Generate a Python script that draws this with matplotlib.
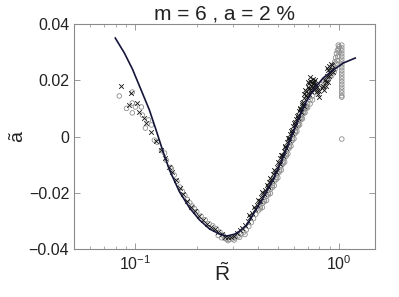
import matplotlib
matplotlib.use("Agg")
import matplotlib.pyplot as plt
from matplotlib.ticker import FixedLocator, FixedFormatter, LogLocator, NullFormatter

plt.rcParams['font.family'] = ['Liberation Sans', 'DejaVu Sans']
plt.rcParams['mathtext.fontset'] = 'custom'
plt.rcParams['mathtext.rm'] = 'Liberation Sans'
plt.rcParams['mathtext.it'] = 'Liberation Sans'
plt.rcParams['mathtext.bf'] = 'Liberation Sans'

# model curve
curve_R = [0.0797, 0.0883, 0.0967, 0.1058, 0.1172, 0.1269, 0.1359, 0.147, 0.1647, 0.1845, 0.2067,
           0.2315, 0.2593, 0.2808, 0.3075, 0.3253, 0.3523, 0.3771, 0.4224, 0.4731, 0.524, 0.5736,
           0.6281, 0.6877, 0.7532, 0.8342, 0.9342, 1.046, 1.199]
curve_a = [0.035, 0.0297, 0.0240, 0.0172, 0.0094, 0.0019, -0.0048, -0.0119, -0.0197, -0.0254, -0.0297,
           -0.0329, -0.0347, -0.0354, -0.0347, -0.0336, -0.0315, -0.0279, -0.0219, -0.0155, -0.0084,
           -0.0012, 0.0059, 0.0123, 0.0169, 0.0208, 0.0236, 0.0261, 0.0279]

# cross-marker data
cross_R = [0.0853, 0.0955, 0.0935, 0.1023, 0.1046, 0.1107, 0.1133, 0.1199, 0.1269, 0.1343, 0.139, 0.147,
           0.152, 0.158, 0.165, 0.172, 0.18, 0.188, 0.196, 0.205, 0.215, 0.225, 0.235, 0.245, 0.255,
           0.265, 0.275, 0.285, 0.295, 0.305, 0.315, 0.325, 0.335, 0.345, 0.355, 0.365, 0.375, 0.385,
           0.395, 0.405, 0.415, 0.425, 0.435, 0.445, 0.455, 0.465, 0.475, 0.485, 0.495, 0.505, 0.515,
           0.525, 0.535, 0.545, 0.555, 0.565, 0.575, 0.585, 0.595, 0.605, 0.615, 0.625, 0.635, 0.645,
           0.655, 0.665, 0.675,
           0.685, 0.69, 0.695, 0.70, 0.705, 0.71, 0.715, 0.72, 0.725, 0.73, 0.735, 0.74, 0.745, 0.75,
           0.755, 0.76, 0.77, 0.78, 0.79, 0.80, 0.82, 0.84, 0.86, 0.87, 0.88, 0.89, 0.90, 0.91, 0.92,
           0.93, 0.88, 0.85,
           0.36, 0.38, 0.40, 0.42, 0.44, 0.46, 0.48, 0.50, 0.52, 0.54, 0.56, 0.58, 0.60, 0.62, 0.64, 0.66,
           0.41, 0.43, 0.45, 0.47, 0.49, 0.51, 0.53, 0.55, 0.57, 0.59, 0.61, 0.63, 0.65, 0.67,
           0.70, 0.72, 0.74, 0.76, 0.73, 0.71, 0.78, 0.80, 0.83, 0.86, 0.89, 0.91, 0.87, 0.92, 0.68, 0.675]
cross_a = [0.018, 0.0155, 0.0112, 0.0119, 0.0087, 0.0066, 0.0048, 0.0016, -0.0016, -0.0048, -0.0076, -0.0108,
           -0.0127, -0.0153, -0.0184, -0.0205, -0.0229, -0.0249, -0.0266, -0.0281, -0.0296, -0.0310, -0.0322,
           -0.0330, -0.0338, -0.0348, -0.0356, -0.0358, -0.0357, -0.0352, -0.0344, -0.0334, -0.0326, -0.0315,
           -0.0302, -0.0287, -0.0271, -0.0256, -0.0244, -0.0229, -0.0215, -0.0202, -0.0189, -0.0176, -0.0162,
           -0.0150, -0.0135, -0.0121, -0.0107, -0.0093, -0.0078, -0.0064, -0.0050, -0.0035, -0.0020, -0.0006,
           0.0008, 0.0023, 0.0037, 0.0050, 0.0064, 0.0077, 0.0089, 0.0101, 0.0113, 0.0124, 0.0136,
           0.0148, 0.0162, 0.0140, 0.0175, 0.0155, 0.0190, 0.0168, 0.0198, 0.0180, 0.0160, 0.0192, 0.0205,
           0.0175, 0.0195, 0.0165, 0.0185, 0.0172, 0.0160, 0.0150, 0.0140, 0.0172, 0.0165, 0.0180, 0.0215,
           0.0235, 0.0250, 0.0225, 0.0258, 0.0240, 0.0230, 0.0195, 0.0200,
           -0.0279, -0.0250, -0.0224, -0.0197, -0.0172, -0.0147, -0.0120, -0.0092, -0.0064, -0.0036, -0.0007,
           0.0021, 0.0047, 0.0073, 0.0097, 0.0118,
           -0.0230, -0.0205, -0.0180, -0.0154, -0.0126, -0.0098, -0.0070, -0.0042, -0.0013, 0.0014, 0.0040,
           0.0065, 0.0088, 0.0109,
           0.0195, 0.0210, 0.0185, 0.0200, 0.0170, 0.0150, 0.0175, 0.0160, 0.0180, 0.0195, 0.0215, 0.0235,
           0.0245, 0.0255, 0.0165, 0.0150]

# circle-marker data
circle_R = [0.0834, 0.0966, 0.0966, 0.0966, 0.100, 0.107, 0.1083, 0.116, 0.12, 0.124, 0.128, 0.1343,
            0.139, 0.142, 0.149, 0.0905, 0.112,
            0.15, 0.155, 0.16, 0.165, 0.17, 0.175, 0.18, 0.185, 0.19, 0.195, 0.20, 0.21, 0.22, 0.23,
            0.24, 0.25, 0.26, 0.27,
            0.28, 0.29, 0.30, 0.31, 0.32, 0.33, 0.34, 0.35, 0.36, 0.37, 0.38, 0.39, 0.265, 0.275, 0.255,
            0.285, 0.305, 0.325, 0.345,
            0.40, 0.41, 0.42, 0.43, 0.44, 0.45, 0.46, 0.47, 0.48, 0.49, 0.50, 0.51, 0.52, 0.53, 0.54,
            0.55, 0.56, 0.57, 0.58, 0.59, 0.60, 0.61, 0.62, 0.63, 0.64, 0.65, 0.66, 0.67, 0.68, 0.69,
            0.70, 0.72, 0.74, 0.76, 0.78, 0.80, 0.82, 0.84, 0.86, 0.88, 0.90, 0.92,
            0.94, 0.95, 0.96, 0.97, 0.98, 0.99, 1.0, 0.985, 0.965, 0.975, 1.0, 0.99, 0.955, 0.945,
            1.03, 1.03, 1.03, 1.03, 1.03, 1.03, 1.03, 1.03, 1.03, 1.03, 1.03, 1.03, 1.03, 1.03, 1.03,
            1.03, 1.03, 1.03, 1.03, 1.03, 1.03,
            0.42, 0.44, 0.46, 0.48, 0.50, 0.52, 0.54, 0.56, 0.58, 0.60, 0.62, 0.64, 0.66, 0.68, 0.70,
            0.72, 0.74,
            0.41, 0.43, 0.45, 0.47, 0.49, 0.51, 0.53, 0.55, 0.57, 0.59, 0.61, 0.63, 0.65, 0.67, 0.69]
circle_a = [0.0144, 0.0158, 0.0119, 0.0084, 0.0105, 0.0105, 0.0076, 0.0059, 0.0041, -0.0013, -0.002, -0.0050,
            -0.0059, -0.0085, -0.0110, 0.0100, 0.0030,
            -0.0115, -0.0137, -0.0159, -0.0180, -0.0195, -0.0210, -0.0224, -0.0236, -0.0247, -0.0257,
            -0.0267, -0.0283, -0.0296, -0.0310, -0.0318, -0.0328, -0.0340, -0.0352,
            -0.0365, -0.0366, -0.0364, -0.0360, -0.0353, -0.0347, -0.0340, -0.0332, -0.0320, -0.0306,
            -0.0292, -0.0276, -0.0360, -0.0362, -0.0352,
            -0.0370, -0.0368, -0.0358, -0.0348,
            -0.0264, -0.0250, -0.0237, -0.0225, -0.0212, -0.0200, -0.0187, -0.0174, -0.0160, -0.0146,
            -0.0132, -0.0118, -0.0104, -0.0090, -0.0076, -0.0062, -0.0047, -0.0033, -0.0019, -0.0006,
            0.0007, 0.0020, 0.0033, 0.0045, 0.0057, 0.0068, 0.0078, 0.0089, 0.0100, 0.0109,
            0.0117, 0.0131, 0.0145, 0.0157, 0.0167, 0.0177, 0.0186, 0.0195, 0.0200, 0.0205, 0.0211, 0.0217,
            0.0250, 0.0265, 0.0280, 0.0295, 0.0305, 0.0312, 0.0300, 0.0285, 0.0260, 0.0270, 0.0320, 0.0325,
            0.0240, 0.0230,
            0.0325, 0.0315, 0.0305, 0.0295, 0.0285, 0.0275, 0.0265, 0.0255, 0.0245, 0.0235, 0.0225, 0.0215,
            0.0205, 0.0195, 0.0185, 0.0175, 0.0165, 0.0155, 0.0145, 0.0140, -0.0009,
            -0.0252, -0.0227, -0.0202, -0.0175, -0.0147, -0.0119, -0.0091, -0.0062, -0.0034, -0.0008,
            0.0018, 0.0042, 0.0063, 0.0085, 0.0102, 0.0116, 0.0130,
            -0.0257, -0.0232, -0.0207, -0.0181, -0.0153, -0.0125, -0.0097, -0.0069, -0.0040, -0.0013,
            0.0013, 0.0038, 0.0061, 0.0082, 0.0102]

y_ticks = [-0.04, -0.02, 0.0, 0.02, 0.04]
y_tick_labels = ['\u22120.04', '\u22120.02', '0', '0.02', '0.04']
title = 'm = 6 , a = 2 %'

fig = plt.figure(figsize=(3.99, 2.97), dpi=100)
ax = fig.add_axes([0.1855, 0.1616, 0.7545, 0.7576])

ax.scatter(circle_R, circle_a, s=11, facecolors='none', edgecolors='#8e8e8e', linewidths=0.6, zorder=2)
ax.scatter(cross_R, cross_a, s=11, marker='x', color='#111111', linewidths=0.6, zorder=3)
ax.plot(curve_R, curve_a, color='#15153a', lw=1.2, zorder=4)

ax.set_xscale('log')
ax.set_xlim(0.05, 1.5)
ax.set_ylim(-0.04, 0.04)
ax.yaxis.set_major_locator(FixedLocator(y_ticks))
ax.yaxis.set_major_formatter(FixedFormatter(y_tick_labels))
ax.xaxis.set_major_locator(LogLocator(base=10, numticks=10))
ax.xaxis.set_minor_locator(LogLocator(base=10, subs=range(2, 10), numticks=10))
ax.xaxis.set_minor_formatter(NullFormatter())

for s in ax.spines.values():
    s.set_color('#8a8a8a')
    s.set_linewidth(0.8)
ax.tick_params(which='both', direction='in', top=True, right=True, colors='#8a8a8a',
               labelcolor='#222222', labelsize=11.5)
ax.tick_params(which='major', length=4, width=0.6)
ax.tick_params(which='minor', length=2, width=0.5)

ax.set_title(title, fontsize=15, color='#222222', pad=3)
ax.set_xlabel('$\\tilde{\\mathrm{R}}$', fontsize=15, color='#222222')
ax.set_ylabel('$\\tilde{\\mathrm{a}}$', fontsize=14, color='#222222')
ax.xaxis.set_label_coords(0.4917, -0.107, transform=ax.transAxes)
ax.yaxis.set_label_coords(-0.183, 0.5, transform=ax.transAxes)
ax.xaxis.label.set_verticalalignment('center')
ax.yaxis.label.set_verticalalignment('center')

fig.savefig('out.png', dpi=100)
